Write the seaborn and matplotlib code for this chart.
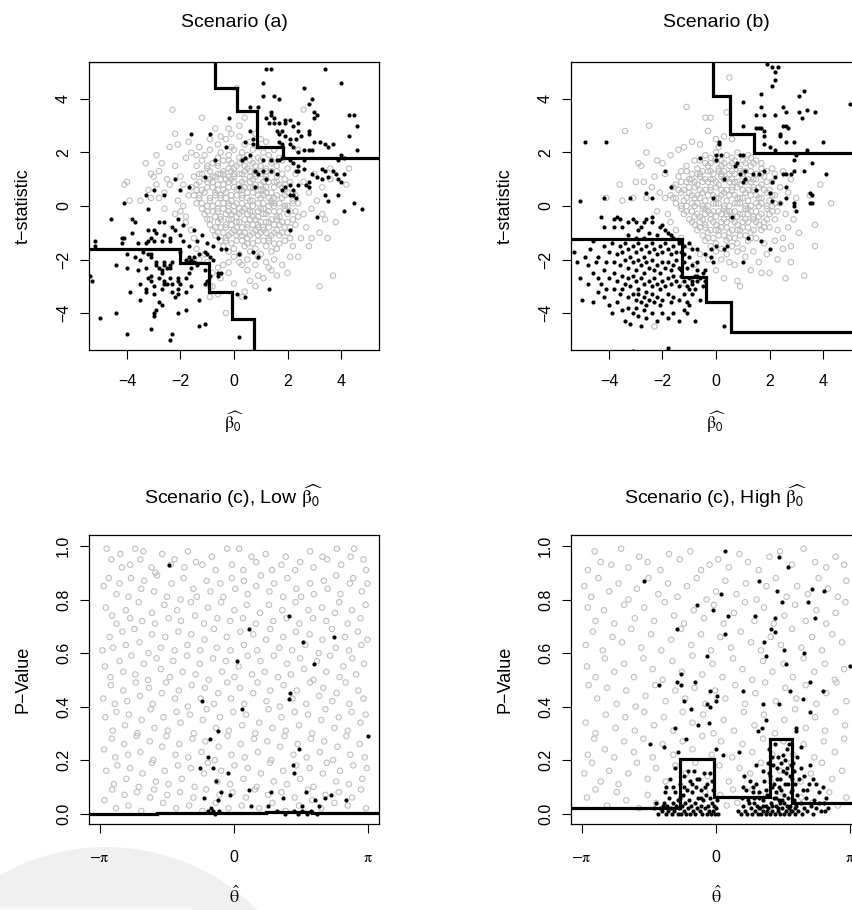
import numpy as np
import pandas as pd
import matplotlib
matplotlib.use("Agg")
import matplotlib.pyplot as plt
from matplotlib.patches import Ellipse, Rectangle
import seaborn as sns

# ---------------- data ----------------
# Top panels: flat (x, y) pairs, both scaled by 10
a_gray = [
    -3,25, 2,26, 6,24, -1,27,
    -6,23, -1,22, 4,23, 9,22, 12,24,
    -9,21, -5,20, 0,21, 3,20, 7,21, 11,20, 15,21,
    -11,19, -6,18, -2,19, 2,18, 5,19, 9,18, 13,19, 17,18,
    -12,17, -8,16, -4,17, -1,16, 3,17, 7,16, 10,17, 14,16, 18,17,
    -14,15, -10,14, -6,15, -2,14, 1,15, 5,14, 8,15, 12,14, 16,15, 20,14,
    -13,12, -9,13, -5,12, -1,13, 3,12, 6,13, 10,12, 14,13, 18,12,
    -15,11, -11,10, -7,11, -3,10, 0,11, 4,10, 8,11, 12,10, 16,11, 19,10,
    -14,8, -10,9, -6,8, -2,9, 2,8, 6,9, 10,8, 13,9, 17,8, 21,9,
    -16,7, -12,6, -8,7, -4,6, 0,7, 3,6, 7,7, 11,6, 15,7, 19,6,
    -15,4, -11,5, -7,4, -3,5, 1,4, 5,5, 9,4, 12,5, 16,4, 20,5, 23,4,
    -13,3, -9,2, -5,3, -1,2, 3,3, 7,2, 10,3, 14,2, 18,3, 22,2,
    -14,1, -10,0, -6,1, -2,0, 1,1, 5,0, 9,1, 13,0, 17,1, 20,0, 24,1,
    -12,-1, -8,-2, -4,-1, 0,-2, 4,-1, 7,-2, 11,-1, 15,-2, 19,-1, 23,-2,
    -11,-3, -7,-4, -3,-3, 1,-4, 5,-3, 9,-4, 12,-3, 16,-4, 20,-3, 24,-4,
    -10,-5, -6,-6, -2,-5, 2,-6, 6,-5, 10,-6, 14,-5, 18,-6, 22,-5,
    -9,-7, -5,-8, -1,-7, 3,-8, 7,-7, 11,-8, 15,-7, 19,-8, 23,-7,
    -8,-9, -4,-10, 0,-9, 4,-10, 8,-9, 12,-10, 16,-9, 20,-10,
    -7,-11, -3,-12, 1,-11, 5,-12, 9,-11, 13,-12, 17,-11, 21,-12,
    -5,-13, -1,-14, 3,-13, 7,-14, 11,-13, 15,-14, 19,-13,
    -4,-15, 0,-16, 4,-15, 8,-16, 12,-15, 16,-16,
    -2,-17, 2,-18, 6,-17, 10,-18, 14,-17,
    0,-19, 5,-20, 9,-19,
    -6,12, -2,11, 2,12, 6,11, 10,13, -8,9, -4,8, 0,9, 4,7, 8,8, 12,7, -7,5,
    -3,3, 1,6, 5,3, 9,6, 13,3, -6,-1, -2,1, 2,-1, 6,2, 10,-1, 14,1, -5,-4,
    -1,-3, 3,-2, 7,-4, 11,-3, 15,0, -3,-7, 1,-6, 5,-8, 9,-7, 13,-6, 17,-4,
    -1,-10, 3,-11, 7,-10, 11,-9, 15,-10, 0,14, 4,15, 8,13, -4,13, 12,11, 16,9,
    -10,15, -6,16, -2,17, 2,16, 6,17, 10,15, 14,17,
    -12,12, -8,11, -4,12, 0,12, 4,13, 8,12, 12,13, 16,13,
    -13,9, -9,10, -5,10, -1,10, 3,9, 7,10, 11,9, 15,9, 19,8,
    -14,6, -10,7, -6,6, -2,7, 2,6, 6,7, 10,6, 14,5, 18,7,
    -13,4, -9,3, -5,4, -1,4, 3,4, 7,5, 11,4, 15,3, 19,4, 22,5,
    -12,1, -8,0, -4,1, 0,0, 3,1, 7,0, 11,1, 15,1, 19,0, 22,1,
    -10,-2, -6,-2, -2,-2, 2,-3, 6,-2, 9,-2, 13,-2, 17,-2, 21,-2,
    -9,-5, -5,-5, -1,-5, 4,-5, 8,-5, 12,-6, 16,-5, 20,-6,
    -7,-8, -3,-8, 1,-8, 5,-7, 9,-8, 13,-8, 17,-7, 21,-8,
    -6,-10, -2,-11, 2,-10, 6,-11, 10,-10, 14,-11, 18,-10,
    -3,-13, 1,-13, 5,-14, 9,-13, 13,-13, 17,-14,
    -17,24, -21,23, -24,22, -29,19, -33,16, -28,13, -31,12, -27,16, -22,15,
    -18,18, -20,11, -25,10, -30,11, -29,8, -32,6, -24,8, -19,8, -17,4, -21,2,
    -19,0, -26,5, -28,3, -31,3, -35,2, -26,-1, -22,-3, -18,-4, -20,-2, -18,-6,
    -16,-9, -15,-12, -13,22, -9,25, -5,26, -16,20, -14,19,
    -23,36, -12,33, 4,33, 1,44, -22,27, 26,36, 8,27, 10,25, -2,29, 2,30, -7,29,
    -41,8, -40,9, -39,2,
    24,21, 23,12, 26,9, 26,-3, 29,-1, 31,2, 28,5, 33,7, 36,10, 30,12, 27,-8,
    32,-10, 35,-12, 25,-12, 22,-15, 28,-15, 33,-3, 38,-6, 42,8, 36,14, 43,14,
    29,-12, 34,-5,
    37,-26, 32,-30, 20,-25, -3,-40, 3,-34, 4,-32, -9,-34, 0,-29, 24,-19, 21,-19,
    11,-27, 9,-26, 15,-20, 2,-21, 3,-22, -2,-21, 18,-22, 13,-23, 8,-22, 5,-24,
    -2,-25, -6,-23, -11,-18, -13,-20, -8,-30, -5,-27, -6,-33, -9,-30, 8,-30,
    14,-24, 16,-26, 12,-21, 6,-28, -4,-22, -8,-25, -10,-21, -14,-16,
]
a_black = [
    12,51, 14,51, 34,51, 11,46, 40,46, 26,44, 11,41, 15,41, 17,40, 29,40, 28,38,
    6,37, 9,37, -2,33, 14,35, 14,34, 30,35, 31,34, 30,33, 12,33, 15,33, 19,32,
    21,32, 45,34, 46,30, 13,31, 15,31, 17,31, 19,31, 22,30, 24,31, 16,28, 17,27,
    18,28, 19,26, 24,28, 28,28, 28,27, 25,26, 23,25, 43,26, -16,27, -9,27, -3,22,
    6,28, 7,25, 4,24, 7,23, 17,24, 18,23, 21,25, 21,23, 30,24, 32,24, 34,23,
    37,23, 35,22, 22,22, 24,20, 26,21, 28,21, 29,21, 46,21, 40,19, 41,18, 39,17,
    16,17, 17,17, 18,18, 21,17, 22,16, 24,15, 26,17, 24,13, 23,13, 26,14, 33,14,
    34,13, 37,13, 38,12, 39,10, 35,11, 41,12, 31,11, 33,10, 28,9, 27,8, 24,8,
    22,6, 22,4, 23,3, 21,8, 19,7, 18,6, 34,4, 35,2, 45,1, 3,17, 4,18, 11,17,
    14,17, 11,13, 8,13, 9,12, 14,13, 16,12, 12,10, 6,19, 2,7, -7,17, -22,10,
    -11,11, -30,6, -33,4, -41,1, -17,7, -26,4, -20,6, 8,7, 43,34, 48,-1, 41,-2,
    39,4, 40,9, 31,-4, 29,12, 21,4, 21,-9, 20,-2, 28,7,
    -32,-1, -46,-5, -38,-5, -37,-6, -38,-10, -41,-12, -32,-9, -30,-9, -29,-10,
    -28,-6, -26,-6, -24,-12, -24,-13, -26,-11, -27,-13, -31,-12, -30,-13,
    -32,-13, -33,-14, -23,-8, -22,-9, -20,-11, -19,-13, -52,-13, -52,-15,
    -42,-14, -54,-26, -53,-28, -44,-22, -40,-23, -40,-18, -37,-19, -35,-20,
    -32,-18, -31,-18, -31,-19, -33,-23, -29,-22, -28,-23, -26,-22, -25,-23,
    -24,-23, -24,-22, -32,-27, -31,-26, -31,-28, -27,-24, -27,-25, -23,-21,
    -29,-21, -26,-21, -35,-29, -39,-32, -35,-35, -33,-31, -33,-32, -26,-29,
    -26,-28, -25,-29, -23,-29, -24,-27, -21,-27, -21,-28, -21,-31, -23,-32,
    -22,-34, -21,-33, -20,-29, -18,-27, -17,-25, -16,-23, -17,-21, -15,-21,
    -14,-22, -16,-20, -18,-32, -16,-30, -15,-19, -13,-18, -11,-17, -9,-19,
    -8,-20, -17,-19, -18,-20, -11,-24, -9,-26, -6,-26, -6,-25, -11,-29,
    -10,-28, -13,-35, -11,-44, -13,-45, -28,-36, -27,-37, -30,-41, -30,-40,
    -29,-39, -21,-40, -18,-39, -50,-42, -44,-40, -31,-46, -23,-48, -24,-50,
    -40,-48, 2,-49, 13,-31, 4,-34, 9,-19, 2,-18, 7,-17, -10,-18, -3,-16,
    -42,-12, -21,-5, -19,-7, -15,-9, -14,-13, -12,-11, -10,-14, -8,-15,
    -6,-12, -5,-16, -17,-15, -20,-17, 1,-33, -5,-25, -36,-14, -34,-17,
    -36,-24, -30,-30, -28,-27, -27,-31, -30,-33,
]
b_gray = [
    -4,19, 0,20, 4,19, 8,20, 12,19,
    -8,17, -4,16, 0,17, 3,16, 7,17, 11,16, 15,17,
    -11,15, -7,14, -3,15, 1,14, 5,15, 9,14, 13,15, 17,14,
    -13,13, -9,12, -5,13, -1,12, 3,13, 7,12, 11,13, 15,12, 19,13,
    -14,11, -10,10, -6,11, -2,10, 2,11, 6,10, 10,11, 14,10, 18,11,
    -15,8, -11,9, -7,8, -3,9, 1,8, 5,9, 9,8, 13,9, 17,8, 21,9,
    -16,7, -12,6, -8,7, -4,6, 0,7, 4,6, 8,7, 12,6, 16,7, 20,6,
    -17,4, -13,5, -9,4, -5,5, -1,4, 3,5, 7,4, 11,5, 15,4, 19,5, 22,4,
    -16,3, -12,2, -8,3, -4,2, 0,3, 4,2, 8,3, 12,2, 16,3, 20,2,
    -15,1, -11,0, -7,1, -3,0, 1,1, 5,0, 9,1, 13,0, 17,1, 21,0, 24,1,
    -13,-1, -9,-2, -5,-1, -1,-2, 3,-1, 7,-2, 11,-1, 15,-2, 19,-1, 23,-2,
    -12,-3, -8,-4, -4,-3, 0,-4, 4,-3, 8,-4, 12,-3, 16,-4, 20,-3,
    -10,-5, -6,-6, -2,-5, 2,-6, 6,-5, 10,-6, 14,-5, 18,-6, 22,-5,
    -8,-7, -4,-8, 0,-7, 4,-8, 8,-7, 12,-8, 16,-7, 20,-8,
    -7,-9, -3,-10, 1,-9, 5,-10, 9,-9, 13,-10, 17,-9,
    -5,-11, -1,-12, 3,-11, 7,-12, 11,-11, 15,-12,
    -4,-13, 0,-14, 4,-13, 8,-14, 12,-13,
    -2,-15, 2,-16, 6,-15, 10,-16,
    0,-17, 4,-18, 8,-17,
    -6,12, -2,13, 2,12, 6,13, 10,12, -8,9, -4,10, 0,9, 4,10, 8,9, 12,10,
    -10,5, -6,3, -2,6, 2,4, 6,6, 10,3, 14,6, -8,0, -4,-1, 0,1, 4,-2, 8,1,
    12,-1, 16,0, -6,-4, -2,-3, 2,-3, 6,-4, 10,-3, 14,-4, -4,-7, 0,-9, 4,-6,
    8,-9, 12,-6, 2,15, 6,16, -2,16,
    -6,17, -2,18, 2,17, 6,18, 10,17, 14,16,
    -11,13, -7,12, -3,13, 1,13, 5,12, 9,13, 13,13, 17,12,
    -13,9, -9,10, -5,9, -1,10, 3,10, 7,9, 11,9, 15,10, 19,9,
    -14,6, -10,7, -6,6, -2,7, 2,6, 6,7, 10,6, 14,7, 18,6,
    -15,3, -11,3, -7,4, -3,4, 1,3, 5,4, 9,3, 13,4, 17,3, 21,4,
    -13,0, -9,1, -5,0, -1,1, 3,0, 7,1, 11,0, 15,1, 19,0, 22,1,
    -11,-2, -7,-3, -3,-2, 1,-2, 5,-2, 9,-3, 13,-2, 17,-3, 21,-2,
    -9,-6, -5,-5, -1,-6, 3,-5, 7,-6, 11,-5, 15,-6, 19,-5,
    -6,-8, -2,-9, 2,-8, 6,-9, 10,-8, 14,-9, 18,-8,
    -3,-12, 1,-11, 5,-12, 9,-11, 13,-12,
    -34,28, -25,30, -11,37, -4,33, -2,33, 5,48, 4,35, -36,8, -41,3, -29,16,
    -26,20, -28,15, -22,17, -20,16, -17,19, -14,21, -12,22, -9,24, -6,23,
    -3,28, 0,25, 3,26, 6,25, 1,22, -19,12, -23,11, -27,9, -30,9, -24,7,
    -21,5, -19,3, -26,3, -31,3, -35,2, -22,-2, -18,-3, -17,-6, -15,-9,
    13,18, 17,16, 21,14, 22,12, 25,13, 28,10, 24,7, 27,5, 30,3, 26,-3, 29,-5,
    27,-8, 31,-10, 25,-12, 23,-9, 28,-15, 25,-16, 23,-20, 28,-21, 19,-18,
    16,-21, 20,-25, 17,-25, 13,-24, 9,-30, 8,-28, 3,-27, 0,-24, 5,-21, 11,-19,
    14,-17, 43,1, 37,-7, 37,-15, 33,-26, 26,-27, 39,8, 35,4, 18,-14, 22,-13,
    -8,-22, -12,-29, -23,-45, -10,-15, -13,-12, -6,-18, -3,-20, 2,-20, 7,-22,
]
b_black = [
    19,53, 21,52, 23,52, 22,50, 22,47, 21,45, 33,43, 31,41, 50,38, 17,42, 10,39,
    17,37, 25,37, 15,34, 18,34, 22,34, 26,35, 31,35, 34,36, 37,35, 32,33, 25,30,
    26,30, 27,29, 15,29, 16,29, 17,29, 10,30, 18,28, 24,27, 18,26, 24,26, 26,24,
    29,24, 40,24, 18,23, 20,22, 22,21, 34,21,
    29,17, 30,19, 33,13, 36,16, 41,12, 36,4, 35,5, 29,13, 28,12, 26,12, 25,12,
    22,11, 18,13, 11,13, 8,16, 1,24, 1,23, 0,17, 2,19, 7,15, 10,19, 11,10, 21,9,
    21,2, 26,7, 26,3, 29,1, 30,-2, 29,0, 20,5, 24,1, 35,1, 36,1, 9,12, 14,12,
    16,12, 10,9, -6,18, 0,19, 9,19, 3,10, 20,-16, 17,-13, 10,-21, 4,-15, 3,-16,
    0,-15, -2,-16, -4,-24, -7,-26, -9,-28, 3,-45, 12,-12, 6,-4, 15,6, -1,3,
    -49,24, -41,24, -51,2, -42,3, -32,3, -26,5, -24,3, -17,7, -19,13,
    -43,-4, -38,-5, -37,-4, -36,-5, -42,-8, -38,-8, -35,-8, -33,-6, -31,-5,
    -30,-6, -29,-9, -28,-8, -27,-6, -26,-5, -24,-4, -24,-6, -21,-8, -20,-7,
    -19,-9, -18,-10, -17,-11, -14,-13, -16,-12, -22,-11, -25,-10, -27,-12,
    -30,-12, -33,-11, -12,-15, -10,-14, -9,-16, -7,-16, -4,-18, -2,-19, -1,-21,
    -47,-16, -46,-13, -49,-19, -51,-27, -48,-29, -45,-21, -46,-25, -44,-27,
    -42,-24, -44,-19, -41,-21, -40,-17, -42,-15, -39,-14, -37,-18, -36,-15,
    -35,-17, -34,-14, -33,-16, -32,-19, -31,-15, -30,-17, -29,-14, -28,-16,
    -27,-19, -26,-15, -25,-17, -24,-14, -23,-16, -22,-18, -21,-15, -20,-17,
    -19,-14, -18,-16, -17,-18, -16,-15, -15,-17, -14,-14, -38,-21, -36,-22,
    -34,-20, -33,-23, -31,-21, -30,-24, -29,-20, -28,-22, -27,-25, -26,-21,
    -25,-23, -24,-20, -23,-24, -22,-22, -21,-25, -20,-21, -19,-23, -18,-21,
    -17,-24, -16,-22, -15,-20, -14,-23, -40,-27, -38,-25, -37,-28, -35,-26,
    -34,-29, -33,-27, -32,-30, -31,-26, -30,-28, -29,-31, -28,-27, -27,-29,
    -26,-32, -25,-28, -24,-30, -23,-27, -22,-29, -21,-31, -20,-28, -19,-30,
    -18,-27, -17,-29, -16,-26, -15,-28, -14,-30, -13,-26, -12,-28, -11,-30,
    -10,-27, -9,-29, -8,-26, -7,-28, -38,-31, -36,-33, -35,-31, -33,-34,
    -31,-33, -30,-35, -29,-33, -28,-36, -27,-34, -26,-37, -25,-35, -24,-33,
    -23,-36, -22,-34, -21,-37, -20,-35, -18,-33, -17,-36, -16,-34, -14,-35,
    -12,-33, -11,-36, -10,-31, -40,-37, -37,-36, -35,-39, -33,-38, -31,-40,
    -30,-38, -29,-41, -27,-39, -26,-42, -24,-40, -22,-43, -20,-40, -18,-42,
    -16,-40, -14,-43, -12,-39, -10,-37, -9,-33, -8,-43, -46,-36, -44,-32,
    -42,-34, -50,-35, -48,-22, -52,-21, -53,-17, -43,-29, -41,-31, -39,-40,
    -34,-43, -32,-44, -28,-45, -18,-53, -31,-54, -13,-24, -11,-23, -9,-22,
    -7,-21, -12,-21, -10,-19, -13,-17, -12,-18, -7,-24, -6,-27, -5,-25,
    -8,-31, -5,-30, -4,-28, -11,-40, -6,-35,
]
# Bottom panels: flat (theta*100, p*100) pairs
c_gray = [
    -298,99, -287,95, -266,97, -262,92, -243,93, -231,99, -219,95, -212,98, -193,92, -184,90,
    -168,97, -148,93, -139,95, -116,92, -108,98, -89,94, -74,93, -52,96, -43,91, -16,99, -5,93,
    12,99, 22,91, 41,96, 52,94, 74,97, 89,91, 111,93, 121,96, 143,91, 155,94, 178,98, 186,92,
    207,96, 218,95, 241,99, 251,93, 273,96, 281,99, 303,95, 309,91,
    -305,85, -293,88, -275,82, -268,86, -247,81, -241,88, -217,84, -210,87, -187,83, -180,89,
    -157,81, -146,86, -125,80, -118,88, -95,84, -87,81, -64,87, -55,83, -32,86, -25,81, -5,88,
    3,84, 23,87, 32,82, 52,85, 63,89, 83,83, 94,86, 115,81, 125,88, 146,84, 157,81, 178,86,
    187,82, 210,87, 219,84, 239,89, 249,82, 271,86, 279,88, 299,83, 312,86,
    -300,77, -285,74, -275,71, -253,76, -243,73, -223,79, -215,72, -192,75, -185,71, -163,78,
    -153,73, -133,76, -124,72, -101,79, -91,74, -70,71, -61,77, -39,73, -30,79, -9,72, 1,76,
    21,73, 30,78, 51,71, 61,75, 82,78, 92,72, 113,76, 123,73, 144,79, 153,71, 174,76, 185,73,
    206,77, 216,72, 236,75, 246,79, 266,71, 276,76, 296,73, 308,78,
    -308,61, -291,66, -283,62, -261,68, -253,63, -233,69, -221,64, -200,60, -192,67, -171,62,
    -161,66, -139,61, -130,68, -109,63, -100,67, -79,61, -69,65, -47,69, -40,62, -17,66, -8,61,
    15,68, 23,63, 45,67, 54,61, 75,65, 85,69, 106,62, 115,66, 136,61, 145,68, 167,63, 177,67,
    198,60, 207,65, 229,69, 238,62, 260,66, 269,61, 290,68, 298,63, 312,65,
    -302,55, -289,51, -268,57, -259,53, -240,59, -231,52, -211,56, -201,50, -181,58, -171,54,
    -150,51, -142,57, -120,53, -110,59, -90,52, -80,56, -59,50, -49,58, -28,53, -19,57, 1,51,
    11,55, 32,59, 42,52, 62,57, 72,53, 93,59, 103,51, 124,56, 133,52, 155,58, 164,54, 186,50,
    194,57, 216,53, 225,59, 247,51, 256,55, 277,58, 286,52, 304,56,
    -306,43, -288,48, -279,41, -259,46, -250,42, -230,49, -220,44, -199,47, -190,41, -169,45,
    -159,49, -138,43, -129,46, -108,40, -99,48, -78,43, -68,47, -47,41, -37,45, -16,49, -7,43,
    14,47, 24,41, 45,45, 55,49, 76,42, 85,46, 107,40, 116,48, 137,43, 147,46, 169,41, 178,49,
    199,44, 209,47, 230,42, 240,45, 261,49, 270,41, 291,46, 303,43,
    -301,36, -284,31, -275,38, -255,33, -246,37, -226,30, -216,35, -195,39, -186,32, -165,36,
    -155,31, -134,38, -125,34, -103,37, -94,30, -73,35, -64,39, -42,32, -33,36, -12,31, -2,38,
    19,33, 28,37, 50,30, 59,34, 81,39, 90,32, 111,36, 121,31, 142,38, 152,33, 173,37, 183,30,
    204,35, 214,39, 235,32, 245,36, 266,31, 275,38, 296,34, 308,37,
    -304,24, -286,28, -278,21, -257,26, -248,22, -228,29, -219,23, -197,27, -189,20, -168,25,
    -158,29, -137,22, -128,26, -107,21, -97,28, -76,23, -67,27, -45,20, -36,25, -15,29, -6,22,
    16,26, 25,21, 47,28, 56,23, 78,27, 87,20, 108,25, 118,29, 139,22, 149,26, 170,21, 180,28,
    201,23, 211,27, 232,20, 242,25, 263,29, 272,22, 294,26, 306,21,
    -299,16, -281,11, -273,18, -252,13, -243,17, -223,10, -214,15, -192,19, -183,12, -162,16,
    -153,11, -131,18, -122,13, -101,17, -92,10, -70,15, -61,19, -39,12, -30,16, -9,11, 1,18,
    22,13, 32,17, 53,10, 63,15, 84,19, 93,12, 115,16, 124,11, 146,18, 155,13, 177,17, 186,10,
    208,15, 217,19, 239,12, 248,16, 269,11, 279,18, 300,13, 311,17,
    -303,5, -285,9, -276,2, -256,7, -247,3, -227,8, -217,1, -196,6, -187,9, -166,4, -156,7,
    -135,2, -126,8, -105,3, -95,6, -74,1, -65,9, -43,4, -34,7, -13,2, -3,8, 18,3, 28,6, 49,9,
    59,2, 80,7, 90,4, 111,8, 121,1, 142,6, 152,3, 173,9, 183,5, 204,2, 214,7, 235,4, 245,8,
    266,3, 276,6, 297,9, 309,2,
]
c_black = [
    -151,93, 35,69, 129,74, 162,64, 187,56, 234,66, 7,57, -75,42, 19,39, 132,45, 129,43,
    313,29, -38,31, -55,28, 152,24, 137,18, 140,15, -79,17, -61,21, -50,17, -14,15, -42,12,
    -71,6, -30,8, -38,5, -9,7, 36,9, 87,8, 115,6, 169,8, 212,6, 228,7, 263,5, 40,3, 79,3,
    158,3, 189,5, 198,3, -54,2, -50,1, 100,1, 120,0, 140,1, 150,0, 160,1, 170,0, 180,1,
    195,0, -45,0, -35,1, -60,1,
]
d_gray = [
    -300,91, -284,98, -270,94, -245,93, -222,99, -205,92, -180,96, -160,94, -130,91, -110,97,
    -85,95, -60,98, -35,91, -15,93, 5,95, 30,92, 55,97, 75,94, 100,91, 125,96, 150,98, 178,93,
    205,99, 232,94, 258,92, 280,96, 300,93,
    -308,85, -292,81, -275,88, -250,83, -228,86, -205,80, -185,84, -158,88, -135,82, -112,86,
    -90,81, -68,85, -45,88, -22,80, 0,83, 22,87, 48,82, 70,86, 95,80, 118,85, 140,88, 165,81,
    190,85, 215,82, 240,88, 262,84, 285,81, 305,87,
    -300,77, -282,72, -262,76, -238,71, -215,78, -190,73, -168,77, -145,72, -120,79, -98,74,
    -75,71, -52,76, -28,73, -5,78, 18,71, 42,75, 68,79, 90,72, 112,77, 135,71, 160,74, 185,78,
    210,72, 235,76, 258,71, 280,75, 303,79,
    -305,63, -288,68, -265,61, -242,66, -220,64, -198,69, -175,62, -152,67, -128,61, -105,65,
    -82,69, -58,63, -35,67, -12,61, 10,66, 35,62, 58,68, 82,64, 105,61, 128,66, 152,63, 178,69,
    200,62, 225,66, 248,61, 272,67, 295,64,
    -302,55, -282,51, -260,58, -238,53, -215,56, -192,51, -170,58, -148,54, -125,50, -102,57,
    -80,53, -55,59, -32,52, -8,56, 15,51, 40,58, 62,54, 85,50, 110,57, 132,53, 158,56, 180,51,
    205,58, 230,53, 255,56, 278,50, 300,54,
    -298,48, -278,43, -255,47, -232,41, -210,46, -188,40, -165,44, -142,48, -118,42, -95,46,
    -72,43, -50,47, -25,41, -2,46, 22,43, 45,48, 68,41, 92,45, 115,49, 140,42, 162,47, 188,43,
    210,48, 235,41, 258,45, 282,49, 305,42,
    -305,34, -282,30, -258,37, -235,32, -212,36, -190,31, -168,38, -145,33, -122,36, -100,31,
    -78,38, -55,34, -30,37, -6,30, 18,35, 42,31, 65,38, 90,33, 112,37, 138,30, 160,35, 185,39,
    210,32, 232,36, 255,31, 280,38, 302,33,
    -300,22, -285,28, -260,24, -238,21, -215,27, -192,23, -170,28, -148,21, -125,26, -100,22,
    -78,27, -55,24, -32,29, -10,22, 12,27, 38,21, 62,26, 85,23, 110,28, 132,22, 158,27, 180,22,
    205,26, 230,21, 252,27, 278,23, 300,28,
    -308,15, -290,19, -270,12, -250,16, -228,11, -205,15, -185,19, -160,13, -140,17, -118,12,
    -95,18, -70,15, -48,19, -20,14, 8,18, 30,12, 55,17, 80,15, 105,19, 128,12, 150,16, 175,19,
    198,12, 222,15, 248,19, 272,13, 295,16,
    -302,6, -282,9, -255,3, -232,8, -210,5, -180,2, -160,7, -140,4, -25,8, 10,7, 25,3, 40,9,
    50,4, 85,9, 105,7, 150,8, 200,6, 225,4, 265,8, 285,3, 305,6,
]
d_black = [
    20,98, 147,96, 169,92, -168,87, 100,87, 11,82, 142,83, 224,84, 252,83, -45,78, -7,76,
    155,79, 216,79, 27,74, 91,74, 138,73, 232,73, -92,69, 128,69, 139,68, 22,67, 112,64,
    158,61, 205,60, -21,59, 118,59, 164,56, 313,55, -82,52, -134,48, -92,49, -82,48, -48,49,
    220,49, 250,46, 63,46, 173,46, -13,46, 2,44, -21,41, -13,40, 0,42, -74,42, 109,41,
    148,41, 203,43, 219,38, -58,39, -16,34, -42,33, -96,32, 117,35, 99,31, 108,32, 187,32,
    187,31, -70,28, -154,26, -121,25, 198,25, -89,23, 53,23, 16,22, 93,18, 0,24, -117,10,
    63,10, 87,10,
    -135,0, -130,2, -127,1, -122,4, -118,0, -115,3, -112,1, -110,6, -106,2, -103,0, -100,4,
    -98,1, -95,8, -93,3, -90,0, -88,5, -86,2, -84,11, -82,0, -80,3, -78,7, -76,1, -74,14,
    -72,4, -70,0, -68,9, -66,2, -64,5, -62,12, -60,0, -58,3, -56,8, -54,1, -52,16, -50,4,
    -48,0, -46,10, -44,2, -42,6, -40,13, -38,1, -36,3, -34,9, -32,0, -30,5, -28,15, -26,2,
    -24,7, -22,0, -20,11, -18,3, -16,1, -14,6, -12,0, -10,4, -8,9, -6,1, -4,3, -2,0, 0,2,
    2,5, 4,0, -120,8, -108,13, -96,17, -125,3, -85,6, -65,16, -45,13, -35,6, -25,10, -15,15,
    -9,12, -55,11, -75,10, -100,10, -140,4, -145,2,
    52,1, 58,0, 63,3, 68,1, 72,0, 77,4, 81,2, 85,0, 88,6, 92,1, 95,3, 98,0, 101,8, 104,2,
    106,0, 109,5, 111,1, 113,12, 116,3, 118,0, 120,7, 122,2, 124,15, 126,0, 128,4, 130,10,
    132,1, 134,18, 136,6, 138,0, 140,3, 142,13, 144,1, 146,21, 148,5, 150,0, 152,9, 154,2,
    156,16, 158,0, 160,4, 162,11, 164,1, 166,24, 168,6, 170,0, 172,14, 174,3, 176,8, 178,1,
    180,19, 182,5, 184,0, 186,11, 188,3, 190,7, 192,1, 195,13, 198,4, 201,0, 204,9, 207,2,
    210,6, 214,1, 218,11, 222,3, 226,0, 230,5, 235,2, 240,8, 246,1, 252,4, 258,6, 262,2,
    125,24, 131,21, 137,26, 143,17, 149,13, 153,19, 157,22, 163,15, 169,11, 175,18, 171,26,
    177,13, 183,16, 189,21, 179,9, 167,17, 161,20, 147,10, 141,8, 135,11, 127,14, 121,19,
    117,9, 110,16, 100,6, 94,11, 86,8, 80,12, 75,5, 70,9, 65,14, 60,6, 198,17, 205,14,
    212,9, 220,18, 228,13, 235,11, 242,4, 250,10, 256,1, 130,3, 145,2, 155,5, 165,3, 175,1,
    185,2, 150,4, 160,7, 170,2, 140,6, 120,1, 110,3, 100,2, 90,4,
]
# Estimated boundaries (step functions, steps-post)
a_upper_x = [-6.0, -0.71, 0.10, 0.87, 1.84, 6.0]
a_upper_y = [5.40, 4.39, 3.55, 2.21, 1.80, 1.80]
a_lower_x = [-6.0, -2.03, -0.94, -0.09, 0.75, 6.0]
a_lower_y = [-1.60, -2.14, -3.22, -4.22, -6.0, -6.0]
b_upper_x = [-0.10, -0.10, 0.52, 1.43, 6.0]
b_upper_y = [6.0, 4.10, 2.68, 1.97, 1.97]
b_lower_x = [-6.0, -1.27, -0.36, 0.56, 6.0]
b_lower_y = [-1.24, -2.64, -3.57, -4.72, -4.72]
c_line_x = [-4.0, -1.8, -0.6, 0.74, 1.83, 4.0]
c_line_y = [0.000, 0.003, 0.001, 0.007, 0.001, 0.001]
d_line_x = [-4.0, -0.854, -0.055, 1.26, 1.79, 4.0]
d_line_y = [0.020, 0.204, 0.061, 0.280, 0.041, 0.041]

top_ticks = [-4, -2, 0, 2, 4]
top_ticklabels = ["\u22124", "\u22122", "0", "2", "4"]
bot_xticks = [-np.pi, 0, np.pi]
bot_xticklabels = [r"$-\mathrm{\pi}$", "0", r"$\mathrm{\pi}$"]
bot_yticks = [0.0, 0.2, 0.4, 0.6, 0.8, 1.0]
bot_yticklabels = ["0.0", "0.2", "0.4", "0.6", "0.8", "1.0"]
beta_hat = r"$\widehat{\mathrm{\beta}_\mathsf{0}}$"
theta_hat = r"$\hat{\mathrm{\theta}}$"
titles = ["Scenario (a)", "Scenario (b)",
          "Scenario (c), Low " + beta_hat, "Scenario (c), High " + beta_hat]

# ---------------- style ----------------
sns.set_theme(style="ticks")
plt.rcParams["font.family"] = ["Liberation Sans", "DejaVu Sans"]
plt.rcParams["mathtext.fontset"] = "stix"
plt.rcParams["axes.unicode_minus"] = True

fig = plt.figure(figsize=(8.52, 9.10), dpi=100)
fig.patch.set_facecolor("white")
# faint background shape visible in the lower-left of the reference
fig.add_artist(Ellipse((106 / 852, 1 - 1060 / 910), 426 / 852, 426 / 910,
                       transform=fig.transFigure, facecolor="#f0f0f0",
                       edgecolor="none", zorder=-5))
fig.add_artist(Rectangle((0, 0), 192 / 852, 3 / 910, transform=fig.transFigure,
                         facecolor="#f8f8f8", edgecolor="none", zorder=-4))

W = 290 / 852
ax_a = fig.add_axes([89 / 852, 560 / 910, W, 288 / 910])
ax_b = fig.add_axes([571 / 852, 560 / 910, W, 288 / 910])
ax_c = fig.add_axes([89 / 852, 85.7 / 910, W, 289 / 910])
ax_d = fig.add_axes([571 / 852, 85.7 / 910, W, 289 / 910])


def to_df(arr, sx, sy):
    a = np.asarray(arr, dtype=float).reshape(-1, 2)
    return pd.DataFrame({"x": a[:, 0] / sx, "y": a[:, 1] / sy})


def draw(ax, gray, black, lines, sx, sy):
    sns.scatterplot(data=to_df(gray, sx, sy), x="x", y="y", ax=ax, s=15,
                    marker="o", facecolor="none", edgecolor="#bebebe",
                    linewidth=0.8, legend=False, zorder=2)
    sns.scatterplot(data=to_df(black, sx, sy), x="x", y="y", ax=ax, s=9,
                    marker="o", color="black", linewidth=0, legend=False,
                    zorder=3)
    for xs, ys in lines:
        ax.plot(xs, ys, drawstyle="steps-post", color="black", lw=2.3,
                zorder=4, solid_joinstyle="miter")


def style(ax, xlim, ylim, xt, xtl, yt, ytl, xlabel, ylabel, title, ty, xpad):
    ax.set_xlim(xlim)
    ax.set_ylim(ylim)
    ax.set_xticks(xt)
    ax.set_xticklabels(xtl, fontsize=11.5)
    ax.set_yticks(yt)
    ax.set_yticklabels(ytl, fontsize=11.5, rotation=90, va="center")
    ax.tick_params(axis="both", direction="out", length=6.5, width=0.8,
                   color="black", labelcolor="black")
    ax.tick_params(axis="x", pad=xpad)
    ax.tick_params(axis="y", pad=6.5)
    for sp in ax.spines.values():
        sp.set_visible(True)
        sp.set_color("black")
        sp.set_linewidth(0.9)
    ax.set_xlabel(xlabel, fontsize=13, color="black")
    ax.xaxis.set_label_coords(0.5, -0.25)
    ax.xaxis.label.set_va("center")
    ax.set_ylabel(ylabel, fontsize=13, color="black")
    ax.yaxis.set_label_coords(-0.228, 0.5)
    ax.yaxis.label.set_va("center")
    ax.text(0.5, ty, title, transform=ax.transAxes, ha="center",
            va="baseline", fontsize=14, color="black")


draw(ax_a, a_gray, a_black, [(a_upper_x, a_upper_y), (a_lower_x, a_lower_y)], 10, 10)
draw(ax_b, b_gray, b_black, [(b_upper_x, b_upper_y), (b_lower_x, b_lower_y)], 10, 10)
draw(ax_c, c_gray, c_black, [(c_line_x, c_line_y)], 100, 100)
draw(ax_d, d_gray, d_black, [(d_line_x, d_line_y)], 100, 100)

for ax, t in [(ax_a, titles[0]), (ax_b, titles[1])]:
    style(ax, (-5.42, 5.42), (-5.38, 5.38), top_ticks, top_ticklabels,
          top_ticks, top_ticklabels, beta_hat, "t\u2212statistic", t, 1.122, 10.6)
for ax, t in [(ax_c, titles[2]), (ax_d, titles[3])]:
    style(ax, (-1.08 * np.pi, 1.08 * np.pi), (-0.04, 1.04), bot_xticks,
          bot_xticklabels, bot_yticks, bot_yticklabels, theta_hat,
          "P\u2212Value", t, 1.11, 12.2)

fig.savefig("out.png", dpi=100, facecolor="white")
